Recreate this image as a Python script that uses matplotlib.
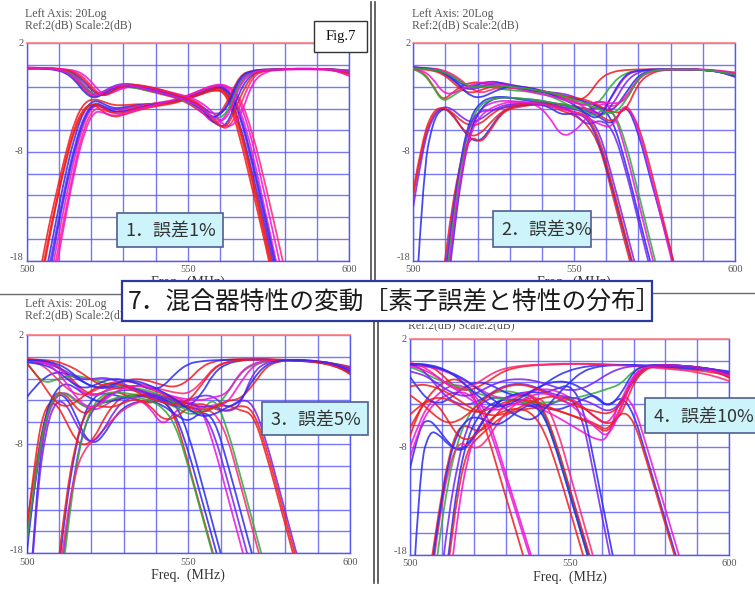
import matplotlib
matplotlib.use("Agg")
import matplotlib.pyplot as plt
from matplotlib.path import Path
from matplotlib.patches import PathPatch, Rectangle
from matplotlib.lines import Line2D
from matplotlib.transforms import Bbox

# ---------------------------------------------------------------- data
# frequency sample points (MHz) shared by every trace
FREQ = [500, 503, 506, 509, 512, 515, 518, 521, 524, 527, 530, 534, 538, 542,
        546, 550, 554, 558, 562, 566, 570, 574, 578, 582, 586, 590, 595, 600]

# panel 1 : element tolerance 1 %
P1_THRU = [
    [-0.3, -0.3, -0.3, -0.4, -0.6, -1.2, -2.4, -3.0, -2.5, -2.0, -1.9, -2.1, -2.4, -2.7, -3.0, -3.5, -4.3, -5.1, -3.6, -0.9, -0.5, -0.4, -0.4, -0.35, -0.35, -0.35, -0.4, -0.6],
    [-0.2, -0.25, -0.3, -0.3, -0.5, -0.9, -1.9, -2.9, -2.7, -2.1, -1.8, -1.9, -2.3, -2.6, -2.9, -3.4, -4.2, -5.5, -4.8, -1.4, -0.6, -0.45, -0.4, -0.35, -0.35, -0.35, -0.4, -0.5],
    [-0.3, -0.3, -0.3, -0.35, -0.45, -0.8, -1.6, -2.6, -2.8, -2.3, -1.9, -1.9, -2.2, -2.5, -2.8, -3.2, -3.9, -5.4, -5.8, -2.3, -0.7, -0.5, -0.4, -0.35, -0.35, -0.35, -0.4, -0.7],
    [-0.3, -0.3, -0.3, -0.35, -0.4, -0.6, -1.2, -2.3, -2.9, -2.4, -2.0, -1.8, -2.1, -2.4, -2.7, -3.0, -3.6, -4.9, -6.2, -3.9, -1.0, -0.5, -0.4, -0.4, -0.35, -0.4, -0.45, -0.9],
    [-0.25, -0.3, -0.3, -0.4, -0.55, -1.0, -2.1, -2.8, -2.4, -1.9, -1.7, -1.8, -2.2, -2.5, -2.8, -3.2, -3.8, -4.6, -4.2, -1.2, -0.55, -0.45, -0.4, -0.35, -0.35, -0.35, -0.4, -0.5],
    [-0.4, -0.3, -0.3, -0.4, -0.5, -1.0, -2.0, -2.8, -2.6, -2.1, -2.0, -2.1, -2.4, -2.6, -2.9, -3.4, -4.0, -5.0, -4.6, -1.6, -0.6, -0.45, -0.4, -0.35, -0.35, -0.35, -0.4, -0.5],
    [-0.3, -0.3, -0.3, -0.3, -0.4, -0.5, -0.9, -1.9, -2.8, -2.5, -2.1, -1.9, -2.0, -2.3, -2.6, -2.9, -3.4, -4.4, -5.9, -5.0, -1.5, -0.6, -0.45, -0.4, -0.4, -0.4, -0.45, -1.0],
    [-0.3, -0.3, -0.35, -0.45, -0.7, -1.4, -2.6, -3.1, -2.6, -2.1, -1.9, -2.0, -2.3, -2.6, -2.9, -3.3, -4.0, -5.0, -4.0, -1.0, -0.5, -0.4, -0.4, -0.35, -0.35, -0.35, -0.4, -0.6],
    [-0.3, -0.3, -0.3, -0.35, -0.45, -0.7, -1.4, -2.5, -2.9, -2.3, -1.9, -1.8, -2.0, -2.3, -2.7, -3.1, -3.7, -5.2, -6.0, -3.0, -0.8, -0.5, -0.4, -0.35, -0.35, -0.35, -0.4, -0.8],
    [-0.25, -0.3, -0.3, -0.4, -0.6, -1.1, -2.2, -2.9, -2.5, -2.0, -1.8, -2.0, -2.3, -2.6, -2.9, -3.3, -3.9, -5.0, -5.2, -1.8, -0.6, -0.45, -0.4, -0.35, -0.35, -0.35, -0.4, -0.6],
]
P1_THRU_COL = "rmbpvgmbrm"
P1_BAND = [
    [-26, -21, -16, -12, -8.2, -5.0, -3.4, -3.1, -3.4, -3.7, -3.7, -3.6, -3.6, -3.5, -3.4, -3.1, -2.7, -2.2, -2.6, -6.5, -11.5, -16.5, -22, -26],
    [-26, -24, -19, -14.5, -10, -6.4, -4.0, -3.2, -3.6, -4.0, -3.9, -3.7, -3.6, -3.5, -3.3, -3.0, -2.6, -2.1, -2.2, -5.2, -10, -15, -20.5, -26],
    [-26, -26, -22, -17, -12.5, -8.2, -5.0, -3.6, -4.0, -4.3, -4.2, -3.9, -3.7, -3.5, -3.3, -2.9, -2.4, -1.9, -1.9, -3.8, -8.0, -13.5, -19, -24.5],
    [-26, -22, -17, -12.8, -8.8, -5.5, -3.8, -3.6, -4.4, -4.8, -4.6, -4.2, -3.9, -3.7, -3.5, -3.1, -2.7, -2.3, -2.4, -5.8, -10.8, -16, -21.5, -26],
    [-26, -25, -20, -15.5, -11, -7.2, -4.5, -3.4, -3.8, -4.1, -4.0, -3.8, -3.6, -3.5, -3.3, -3.0, -2.5, -2.0, -2.0, -4.5, -9.2, -14.5, -20, -25.5],
    [-26, -26, -23, -18, -13.5, -9.0, -5.5, -3.9, -4.2, -4.4, -4.1, -3.8, -3.6, -3.4, -3.2, -2.8, -2.3, -1.9, -1.8, -2.8, -6.2, -11.0, -16.2, -21.5, -26],
    [-26, -25, -21, -16, -11.5, -7.6, -4.7, -3.5, -3.9, -4.3, -4.3, -4.0, -3.7, -3.5, -3.3, -3.0, -2.6, -2.1, -2.1, -4.2, -8.8, -14, -19.5, -25],
    [-26, -22.5, -17.5, -13, -9.0, -5.8, -4.0, -3.5, -4.0, -4.5, -4.4, -4.0, -3.8, -3.6, -3.4, -3.0, -2.6, -2.1, -2.3, -5.4, -10.4, -15.6, -21, -26],
    [-26, -26, -24, -19, -14, -9.5, -6.0, -4.2, -4.4, -4.7, -4.5, -4.1, -3.8, -3.5, -3.2, -2.8, -2.3, -1.8, -1.8, -3.2, -7.0, -12.2, -17.6, -23],
]
P1_BAND_COL = "rbmrvpbrm"

# panel 2 : element tolerance 3 %
P2_THRU = [
    [-0.3, -0.6, -1.8, -3.3, -2.6, -1.9, -1.6, -1.6, -1.8, -2.0, -2.1, -2.2, -2.4, -2.6, -2.9, -3.3, -3.0, -1.2, -0.6, -0.45, -0.4, -0.4, -0.4, -0.4, -0.4, -0.45, -0.55, -0.8],
    [-0.4, -0.7, -1.9, -3.4, -2.9, -2.3, -2.0, -1.9, -2.0, -2.2, -2.3, -2.4, -2.5, -2.8, -3.3, -4.0, -4.2, -3.4, -1.6, -0.7, -0.5, -0.45, -0.4, -0.4, -0.4, -0.45, -0.6, -0.9],
    [-0.2, -0.25, -0.35, -0.5, -0.9, -1.6, -2.1, -1.9, -1.7, -1.6, -1.8, -2.1, -2.3, -2.6, -3.0, -3.2, -4.1, -4.6, -2.8, -0.9, -0.5, -0.4, -0.4, -0.35, -0.35, -0.4, -0.5, -0.7],
    [-0.3, -0.3, -0.4, -0.6, -1.1, -1.8, -2.0, -1.7, -1.5, -1.6, -1.9, -2.2, -2.4, -2.5, -2.8, -3.1, -3.4, -3.9, -4.3, -2.6, -0.9, -0.5, -0.4, -0.4, -0.4, -0.45, -0.6, -1.0],
    [-0.25, -0.3, -0.3, -0.45, -0.8, -1.4, -2.2, -2.6, -2.3, -2.0, -1.9, -2.0, -2.2, -2.5, -2.9, -3.4, -3.8, -3.2, -4.0, -3.0, -1.1, -0.55, -0.4, -0.4, -0.4, -0.45, -0.55, -0.7],
    [-0.2, -0.3, -0.4, -0.7, -1.3, -2.0, -2.3, -2.0, -1.8, -1.7, -1.8, -2.0, -2.3, -2.5, -2.6, -2.9, -3.5, -4.8, -3.7, -1.5, -0.6, -0.45, -0.4, -0.4, -0.4, -0.45, -0.6, -1.1],
    [-0.4, -0.4, -0.5, -0.8, -1.5, -2.3, -2.6, -2.3, -2.0, -1.9, -1.9, -2.1, -2.3, -2.5, -2.8, -3.0, -3.2, -3.8, -4.4, -4.3, -1.6, -0.7, -0.45, -0.4, -0.4, -0.45, -0.55, -0.8],
    [-0.2, -0.3, -0.35, -0.6, -1.2, -2.1, -2.9, -3.0, -2.6, -2.2, -2.0, -2.0, -2.2, -2.6, -3.1, -3.6, -4.6, -5.0, -2.6, -0.8, -0.5, -0.4, -0.4, -0.4, -0.4, -0.45, -0.6, -1.0],
    [-0.3, -0.5, -1.2, -2.5, -2.7, -2.2, -1.8, -1.6, -1.6, -1.8, -2.0, -2.3, -2.6, -2.8, -3.1, -3.5, -3.7, -3.3, -3.6, -3.3, -1.2, -0.55, -0.4, -0.4, -0.4, -0.45, -0.55, -0.8],
    [-0.3, -0.35, -0.4, -0.6, -1.0, -1.6, -2.0, -2.0, -1.9, -1.9, -2.0, -2.1, -2.3, -2.5, -2.8, -3.2, -3.6, -4.1, -4.6, -3.4, -1.1, -0.5, -0.4, -0.4, -0.4, -0.45, -0.6, -0.9],
]
P2_THRU_COL = "rgmbpvrbmg"
P2_BAND = [
    [-12, -7.0, -4.6, -3.9, -4.3, -5.2, -5.6, -5.4, -4.6, -4.0, -3.7, -3.6, -3.6, -3.7, -4.2, -4.6, -5.4, -7.4, -12, -16.6, -21, -26],
    [-26, -10, -5.2, -3.9, -4.4, -5.8, -6.9, -7.0, -5.8, -4.5, -3.9, -3.7, -3.6, -3.8, -4.6, -4.4, -4.8, -7.2, -11.5, -16, -20.5, -26],
    [-13, -7.5, -4.8, -3.8, -4.0, -4.8, -5.3, -5.0, -4.3, -3.8, -3.6, -3.5, -3.5, -3.6, -3.9, -4.0, -4.5, -6.2, -10.5, -15, -19.5, -24],
    [-26, -26, -26, -22, -14.5, -8.0, -4.6, -3.4, -3.0, -2.9, -3.0, -3.2, -3.4, -3.5, -3.6, -3.8, -4.2, -3.8, -5.0, -9.0, -13.8, -18.5, -23, -26],
    [-26, -26, -26, -24, -16, -9.5, -5.5, -4.0, -3.5, -3.3, -3.3, -3.4, -3.6, -4.6, -6.6, -6.2, -4.8, -3.4, -4.0, -7.8, -12.6, -17.4, -22, -26],
    [-26, -26, -26, -25, -17, -10, -5.8, -4.0, -3.2, -3.0, -3.0, -3.1, -3.2, -3.4, -3.7, -3.9, -4.2, -4.8, -5.6, -3.4, -6.2, -10.8, -15.0, -19.4, -24],
    [-26, -26, -26, -20, -13, -8.5, -6.5, -7.2, -6.0, -4.6, -4.0, -3.8, -3.6, -3.5, -3.6, -3.8, -4.0, -4.6, -5.4, -3.6, -5.4, -9.8, -14.6, -19.4, -24],
    [-26, -26, -26, -23, -15, -8.8, -5.0, -3.6, -3.2, -3.0, -3.0, -3.1, -3.2, -3.4, -3.6, -3.9, -4.4, -4.8, -4.0, -7.0, -11.8, -16.6, -21.4, -26],
    [-26, -26, -26, -21, -14, -8.2, -5.0, -4.2, -4.2, -4.0, -3.8, -3.7, -3.6, -3.6, -3.8, -4.4, -5.6, -5.0, -5.8, -9.6, -14.4, -19.2, -24],
    [-11.5, -6.6, -4.3, -3.8, -4.5, -5.8, -6.6, -6.3, -5.3, -4.4, -3.9, -3.6, -3.5, -3.6, -4.0, -4.3, -4.6, -6.8, -11.2, -15.8, -20.3, -25],
    [-26, -26, -26, -24, -16, -9.8, -6.0, -4.6, -4.0, -3.6, -3.4, -3.4, -3.5, -3.7, -4.0, -4.4, -4.8, -5.5, -5.8, -3.2, -5.8, -10.4, -15.2, -20, -24.6],
]
P2_BAND_COL = "rbvbmbrgvrm"

# panel 3 : element tolerance 5 %
P3_THRU = [
    [-0.2, -0.3, -0.4, -0.7, -1.4, -2.4, -3.2, -3.5, -3.2, -2.6, -2.2, -2.0, -2.2, -2.6, -2.8, -2.2, -0.9, -0.4, -0.25, -0.2, -0.2, -0.2, -0.25, -0.3, -0.35, -0.45, -0.6, -0.9],
    [-3.7, -2.6, -1.8, -1.4, -1.5, -1.9, -2.4, -2.8, -2.9, -2.7, -2.6, -2.9, -3.4, -3.8, -4.4, -4.6, -3.5, -1.4, -0.6, -0.35, -0.25, -0.25, -0.3, -0.3, -0.35, -0.45, -0.6, -1.0],
    [-0.3, -0.35, -0.45, -0.8, -1.6, -2.6, -3.4, -3.6, -3.2, -2.9, -2.8, -3.0, -3.3, -3.6, -3.9, -4.3, -4.7, -4.4, -4.3, -2.4, -0.8, -0.4, -0.3, -0.3, -0.35, -0.45, -0.7, -1.2],
    [-0.5, -1.8, -2.4, -2.1, -1.8, -1.7, -1.9, -2.1, -2.4, -2.6, -2.7, -2.9, -3.1, -3.6, -4.3, -5.0, -5.1, -4.8, -3.4, -1.5, -0.7, -0.4, -0.3, -0.3, -0.35, -0.45, -0.7, -1.1],
    [-0.4, -0.5, -0.6, -0.9, -1.3, -1.8, -2.1, -2.0, -1.9, -2.1, -2.5, -3.0, -3.4, -3.7, -4.0, -4.3, -4.6, -4.5, -5.1, -4.5, -1.4, -0.5, -0.3, -0.3, -0.35, -0.5, -0.8, -1.4],
    [-0.3, -0.5, -1.0, -1.9, -2.8, -3.4, -3.5, -3.1, -2.6, -2.3, -2.2, -2.4, -2.7, -3.0, -3.3, -3.4, -2.4, -0.9, -0.45, -0.3, -0.25, -0.25, -0.3, -0.35, -0.4, -0.5, -0.7, -1.0],
    [-0.2, -0.25, -0.3, -0.4, -0.7, -1.1, -1.7, -2.3, -2.7, -2.9, -2.8, -2.6, -2.9, -3.4, -3.9, -4.6, -5.2, -4.6, -4.0, -3.9, -2.6, -0.9, -0.4, -0.3, -0.3, -0.4, -0.6, -1.6],
    [-0.5, -0.6, -0.8, -1.2, -1.9, -2.6, -2.9, -2.6, -2.2, -2.0, -2.1, -2.4, -3.0, -2.8, -1.5, -0.6, -0.4, -0.3, -0.3, -0.25, -0.25, -0.25, -0.3, -0.35, -0.4, -0.5, -0.7, -1.1],
    [-0.3, -0.4, -0.6, -1.2, -2.3, -3.6, -4.5, -4.6, -4.0, -3.3, -2.8, -2.6, -2.8, -3.3, -3.7, -3.9, -4.0, -3.7, -3.4, -1.4, -0.6, -0.35, -0.3, -0.3, -0.35, -0.45, -0.65, -1.2],
    [-0.6, -1.6, -3.0, -4.2, -4.6, -4.2, -3.5, -2.9, -2.5, -2.4, -2.6, -3.2, -3.8, -4.2, -4.4, -4.1, -2.6, -1.0, -0.45, -0.3, -0.25, -0.25, -0.3, -0.3, -0.35, -0.5, -0.8, -1.5],
    [-0.3, -0.3, -0.4, -0.6, -1.0, -1.7, -2.4, -2.8, -2.8, -2.5, -2.2, -2.2, -2.6, -3.2, -3.9, -4.8, -5.5, -5.3, -4.6, -4.2, -2.0, -0.7, -0.35, -0.3, -0.3, -0.4, -0.6, -1.3],
]
P3_THRU_COL = "rbmgvprbmrb"
P3_BAND = [
    [-15.5, -9.5, -5.0, -3.2, -3.4, -4.6, -5.3, -4.6, -3.6, -3.2, -3.4, -4.0, -4.3, -3.8, -5.5, -9.8, -14.1, -18.4, -22.7, -26],
    [-26, -12, -5.5, -3.4, -3.6, -5.2, -7.4, -8.0, -7.1, -5.6, -4.6, -4.1, -4.0, -4.4, -5.3, -6.0, -5.0, -5.6, -9.6, -14, -18.4, -22.8, -26],
    [-17, -10.5, -5.8, -3.6, -3.2, -3.9, -4.6, -4.9, -4.5, -3.9, -3.6, -3.8, -4.6, -6.4, -5.0, -4.0, -4.6, -8.2, -12.6, -17, -21.4, -26],
    [-26, -26, -26, -22, -14, -8.4, -5.0, -3.6, -3.3, -3.5, -3.7, -3.6, -3.4, -3.5, -4.2, -7.0, -11.4, -15.8, -20.2, -26],
    [-16, -8.0, -4.3, -4.2, -5.8, -7.6, -8.2, -7.4, -5.6, -4.3, -3.6, -3.4, -3.5, -3.8, -4.2, -4.6, -4.9, -4.6, -4.4, -4.9, -5.2, -8.8, -13.2, -17.6, -22, -26],
    [-26, -26, -26, -24, -16.5, -10, -6.2, -4.6, -3.8, -3.3, -3.0, -3.1, -3.5, -4.0, -4.2, -4.0, -3.5, -3.6, -4.8, -3.9, -4.2, -7.6, -12, -16.4, -20.8, -25],
    [-26, -26, -26, -25, -17.5, -10.5, -6.2, -4.2, -3.4, -3.2, -3.3, -3.5, -3.8, -4.1, -4.6, -5.3, -5.1, -3.6, -6.5, -10.8, -15.2, -19.6, -24],
    [-18, -10, -5.0, -3.0, -2.4, -2.8, -3.5, -4.0, -4.2, -4.0, -3.8, -3.6, -3.6, -4.0, -5.2, -8.6, -12.9, -17.2, -21.5, -26],
    [-26, -26, -26, -23, -15.5, -10.5, -8.4, -7.6, -6.6, -5.6, -4.8, -4.2, -3.9, -3.6, -3.7, -4.2, -4.8, -5.0, -7.2, -11.6, -16, -20.4, -24.8],
    [-26, -13, -6.5, -4.0, -4.2, -6.0, -7.6, -7.8, -6.6, -5.0, -4.0, -3.6, -3.6, -4.0, -4.6, -4.6, -4.8, -7.0, -11.2, -15.6, -20, -24.4],
    [-26, -26, -26, -21, -13.2, -8.0, -5.2, -4.4, -4.6, -4.6, -4.2, -3.8, -4.4, -5.8, -5.6, -4.6, -4.2, -4.8, -5.0, -4.4, -4.8, -8.2, -12.6, -17, -21.4, -25.8],
    [-17, -10, -5.4, -3.4, -3.3, -4.0, -4.6, -4.6, -4.2, -3.8, -3.6, -3.7, -4.0, -4.6, -6.2, -10, -14.3, -18.6, -23],
]
P3_BAND_COL = "rbmbrvgbpvrg"

# panel 4 : element tolerance 10 %
P4_THRU = [
    [-0.3, -0.3, -0.5, -1.0, -1.9, -2.6, -2.8, -2.5, -2.0, -1.4, -0.9, -0.6, -0.45, -0.4, -0.35, -0.3, -0.3, -0.3, -0.35, -0.4, -0.45, -0.5, -0.6, -0.7, -0.8, -0.9, -1.1, -1.4],
    [-1.5, -2.8, -3.7, -4.0, -3.6, -2.9, -2.3, -2.0, -2.1, -2.5, -3.0, -3.3, -3.0, -2.2, -1.4, -0.9, -0.6, -0.45, -0.4, -0.4, -0.45, -0.5, -0.55, -0.6, -0.7, -0.8, -0.9, -1.1],
    [-0.4, -0.5, -0.6, -0.8, -1.1, -1.5, -2.0, -2.5, -3.0, -3.4, -3.5, -3.2, -2.8, -2.6, -2.8, -3.4, -4.2, -5.3, -6.0, -3.8, -1.2, -0.6, -0.5, -0.5, -0.55, -0.65, -0.85, -1.2],
    [-0.6, -0.9, -1.4, -1.8, -2.1, -2.4, -2.7, -3.0, -3.3, -3.5, -3.6, -3.8, -3.9, -3.9, -3.8, -3.6, -3.3, -3.0, -2.6, -2.2, -0.9, -0.45, -0.4, -0.45, -0.5, -0.6, -0.8, -1.1],
    [-0.3, -0.6, -1.5, -2.6, -3.5, -4.0, -4.1, -3.8, -3.3, -2.7, -2.3, -2.1, -2.3, -2.8, -3.2, -3.4, -3.6, -4.1, -4.8, -4.0, -1.8, -0.6, -0.4, -0.4, -0.5, -0.6, -0.9, -1.5],
    [-5.0, -4.2, -3.6, -3.4, -3.6, -4.1, -4.6, -4.8, -4.6, -4.2, -3.8, -3.6, -3.7, -4.1, -4.6, -5.0, -5.4, -5.8, -6.6, -4.4, -1.5, -0.6, -0.45, -0.45, -0.5, -0.65, -0.9, -1.6],
    [-0.4, -0.4, -0.5, -0.7, -1.0, -1.4, -1.9, -2.6, -3.2, -3.8, -4.5, -5.2, -5.6, -4.6, -3.2, -2.0, -1.0, -0.6, -0.45, -0.4, -0.4, -0.45, -0.5, -0.55, -0.6, -0.7, -0.8, -1.0],
    [-0.2, -0.4, -0.9, -1.6, -2.3, -2.7, -2.6, -2.1, -1.5, -1.0, -0.7, -0.5, -0.4, -0.35, -0.3, -0.3, -0.3, -0.35, -0.4, -0.45, -0.5, -0.6, -0.7, -0.8, -0.9, -1.1, -1.4, -1.9],
    [-2.4, -2.2, -2.3, -2.6, -3.0, -3.6, -4.2, -4.7, -5.0, -5.1, -4.9, -4.4, -3.8, -3.4, -3.3, -3.6, -4.3, -5.2, -6.0, -5.2, -2.0, -0.7, -0.5, -0.45, -0.5, -0.6, -0.8, -1.3],
    [-0.3, -0.3, -0.4, -0.6, -1.0, -1.6, -2.4, -3.2, -3.9, -4.3, -4.2, -3.6, -2.8, -2.2, -1.9, -2.0, -2.6, -3.4, -4.3, -3.2, -0.9, -0.45, -0.4, -0.4, -0.5, -0.6, -0.8, -1.2],
    [-3.2, -3.8, -4.6, -5.4, -5.8, -5.6, -5.0, -4.2, -3.4, -2.8, -2.4, -2.2, -2.4, -2.9, -3.5, -4.0, -4.4, -4.7, -5.0, -4.2, -1.4, -0.55, -0.45, -0.45, -0.5, -0.6, -0.9, -1.5],
    [-0.5, -0.7, -1.1, -1.6, -2.2, -2.8, -3.4, -4.0, -4.4, -4.6, -4.4, -3.8, -3.2, -3.0, -3.3, -4.0, -5.0, -6.2, -7.2, -4.6, -1.3, -0.55, -0.45, -0.45, -0.5, -0.65, -0.9, -1.4],
    [-1.0, -1.2, -1.6, -2.2, -2.8, -3.2, -3.3, -3.0, -2.5, -2.1, -1.8, -1.7, -1.8, -2.1, -2.5, -2.8, -2.6, -2.0, -1.2, -0.7, -0.5, -0.45, -0.45, -0.5, -0.55, -0.65, -0.8, -1.1],
]
P4_THRU_COL = "rbmgvrbprbrmv"
P4_BAND = [
    [-6.2, -4.6, -3.2, -2.3, -1.8, -1.7, -2.4, -4.0, -6.6, -9.6, -12.6, -16.6, -20.6, -25],
    [-8.0, -5.6, -4.0, -3.0, -2.4, -2.2, -2.6, -3.4, -5.0, -7.6, -10.5, -14.3, -18.1, -22, -26],
    [-26, -10, -6.5, -6.8, -7.8, -8.3, -7.8, -6.5, -5.0, -4.0, -3.4, -3.1, -3.2, -4.8, -8.0, -12.0, -16.0, -20, -24],
    [-26, -26, -20, -14, -9.0, -6.2, -6.0, -6.6, -6.2, -5.0, -4.0, -3.3, -3.0, -4.5, -7.8, -11.8, -15.8, -19.8, -24],
    [-26, -26, -24, -17, -11, -7.4, -5.2, -4.0, -3.3, -2.9, -2.8, -3.0, -3.6, -5.0, -8.2, -12.3, -16.4, -20.5, -24.6],
    [-26, -26, -26, -22, -14.5, -9.4, -6.0, -4.4, -3.6, -3.4, -3.5, -3.8, -4.2, -4.3, -3.8, -3.2, -5.2, -11.2, -17.2, -23],
    [-26, -26, -26, -26, -18, -11, -7.2, -5.3, -4.3, -3.8, -3.6, -3.6, -3.9, -4.4, -4.6, -4.2, -3.6, -3.1, -4.4, -3.2, -4.8, -8.8, -12.8, -16.8, -20.8, -24.8],
    [-26, -26, -26, -25, -19, -12, -8.2, -7.2, -6.4, -5.6, -5.0, -4.6, -4.4, -4.3, -4.6, -5.0, -5.5, -6.0, -6.8, -4.6, -5.4, -9.2, -13.2, -17.2, -21.2, -25],
    [-26, -26, -26, -26, -22, -14, -9.0, -6.4, -5.0, -4.3, -4.0, -4.0, -4.2, -4.6, -5.2, -5.9, -6.6, -7.3, -7.4, -3.0, -4.0, -7.8, -11.8, -15.8, -19.8, -23.8],
    [-10, -6.0, -5.4, -6.4, -7.6, -8.4, -8.0, -6.6, -5.0, -4.0, -3.4, -3.0, -2.9, -3.0, -2.6, -2.2, -4.0, -9.8, -15.8, -21.8],
    [-26, -26, -22, -15, -10, -7.6, -7.8, -8.2, -7.4, -6.0, -4.8, -3.8, -3.4, -3.6, -6.2, -10.4, -14.6, -18.8, -23],
    [-7.0, -4.4, -3.6, -4.2, -5.6, -7.0, -7.4, -6.8, -5.8, -5.0, -4.6, -4.4, -4.8, -6.4, -9.8, -13.8, -17.8, -21.8],
    [-26, -26, -21, -14.5, -9.4, -6.6, -5.4, -5.2, -5.6, -6.0, -5.6, -4.6, -4.0, -5.0, -8.4, -12.4, -16.4, -20.4, -24.4],
    [-9.0, -6.2, -4.5, -3.6, -3.1, -2.9, -3.0, -3.8, -5.6, -8.2, -11.0, -14.8, -18.6, -22.4],
]
P4_BAND_COL = "rmbrgvbrmbprbm"

TOLERANCE_LABELS = ["1．誤差1%", "2．誤差3%", "3．誤差5%", "4．誤差10%"]
TITLE = "7．混合器特性の変動［素子誤差と特性の分布］"
X_TICKS = ["500", "550", "600"]
Y_TICKS = ["2", "-8", "-18"]

# ---------------------------------------------------------------- style
COLORS = {"r": "#f01c1c", "b": "#2a2af2", "m": "#ee14d6", "p": "#ff2476",
          "v": "#7622ee", "g": "#2faa38"}
GRID = "#5656f6"
W, H = 755, 589
CJK = ["Noto Sans CJK JP", "DejaVu Sans"]
SERIF = "Liberation Serif"

fig = plt.figure(figsize=(W / 100, H / 100), dpi=100)
fig.patch.set_facecolor("white")


def pixel_axes(x0, y0, x1, y1, **kw):
    return fig.add_axes([x0 / W, 1 - y1 / H, (x1 - x0) / W, (y1 - y0) / H], **kw)


def smooth_trace(ax, xs, ys, color):
    pts = list(zip(xs, ys))
    verts = [pts[0]]
    codes = [Path.MOVETO]
    for i in range(1, len(pts) - 1):
        mid = ((pts[i][0] + pts[i + 1][0]) / 2, (pts[i][1] + pts[i + 1][1]) / 2)
        verts += [pts[i], mid]
        codes += [Path.CURVE3, Path.CURVE3]
    verts.append(pts[-1])
    codes.append(Path.LINETO)
    ax.add_patch(PathPatch(Path(verts, codes), fill=False, edgecolor=color,
                           lw=1.3, alpha=0.85, capstyle="round", zorder=3))


PANELS = [
    ((26.7, 43.3, 349.3, 260.7), P1_THRU, P1_THRU_COL, P1_BAND, P1_BAND_COL),
    ((413.3, 43.3, 735.0, 260.7), P2_THRU, P2_THRU_COL, P2_BAND, P2_BAND_COL),
    ((26.7, 335.0, 350.0, 553.3), P3_THRU, P3_THRU_COL, P3_BAND, P3_BAND_COL),
    ((410.0, 339.0, 729.3, 555.0), P4_THRU, P4_THRU_COL, P4_BAND, P4_BAND_COL),
]

for box, thru, thru_col, band, band_col in PANELS:
    ax = pixel_axes(*box)
    ax.set_xlim(500, 600)
    ax.set_ylim(-18, 2)
    ax.set_xticks(range(500, 601, 10))
    ax.set_yticks(range(-18, 3, 2))
    ax.tick_params(length=0, labelbottom=False, labelleft=False)
    ax.grid(True, color=GRID, lw=1.0, alpha=0.8)
    ax.set_axisbelow(True)
    for side in ("left", "bottom", "right"):
        ax.spines[side].set_color(GRID)
        ax.spines[side].set_linewidth(1.0)
    ax.spines["top"].set_color("#ff7c7c")
    ax.spines["top"].set_linewidth(1.2)
    for row, c in zip(band, band_col):
        smooth_trace(ax, FREQ, row, COLORS[c])
    for row, c in zip(thru, thru_col):
        smooth_trace(ax, FREQ, row, COLORS[c])

# ---------------------------------------------------------------- overlay in pixel coordinates
ov = fig.add_axes([0, 0, 1, 1], zorder=10)
ov.set_xlim(0, W)
ov.set_ylim(H, 0)
ov.axis("off")
ov.patch.set_alpha(0)

BANNER = (121.7, 281.0, 652.0, 321.0)

tick_kw = dict(fontsize=7.5, family=SERIF, color="#555555")
head_kw = dict(fontsize=8.5, family=SERIF, color="#555555", ha="left", va="center")
# only the part of the upper-row axis titles above the banner stays visible
upper_clip = Bbox([[0, H - BANNER[1]], [W, H]])

for idx, ((x0, y0, x1, y1), *_) in enumerate(PANELS):
    ym = (y0 + y1) / 2
    ov.text(x0 - 3, y0, Y_TICKS[0], ha="right", va="center", **tick_kw)
    ov.text(x0 - 3, ym, Y_TICKS[1], ha="right", va="center", **tick_kw)
    ov.text(x0 - 3, y1 - 3, Y_TICKS[2], ha="right", va="center", **tick_kw)
    for xv, lab in zip((x0, (x0 + x1) / 2, x1), X_TICKS):
        ov.text(xv, y1 + 9, lab, ha="center", va="center", **tick_kw)
    xl = ov.text((x0 + x1) / 2, y1 + 22, "Freq.  (MHz)", ha="center", va="center",
                 fontsize=10, family=SERIF, color="#333333")
    if idx < 2:
        xl.set_clip_box(upper_clip)
        xl.set_clip_on(True)

# panel headers
for hx, hy in ((25, 14), (412, 14), (25, 304)):
    ov.text(hx, hy, "Left Axis: 20Log", **head_kw)
    ov.text(hx, hy + 11, "Ref:2(dB) Scale:2(dB)", **head_kw)
hdr4 = ov.text(408, 325, "Ref:2(dB) Scale:2(dB)", **head_kw)
hdr4.set_clip_box(Bbox([[0, 0], [W, H - 323.5]]))
hdr4.set_clip_on(True)

# separators between the four panels
sep = dict(color="#4a4a4a", lw=1.2)
ov.add_line(Line2D([371, 371], [2, 283], **sep))
ov.add_line(Line2D([375, 375], [2, 283], **sep))
ov.add_line(Line2D([374, 374], [318, 583], **sep))
ov.add_line(Line2D([378, 378], [318, 583], **sep))
ov.add_line(Line2D([0, 122], [294, 294], color="#6a6a6a", lw=1.0))
ov.add_line(Line2D([652, 755], [293, 293], color="#6a6a6a", lw=1.0))

# figure number
ov.add_patch(Rectangle((314, 20.7), 52.7, 31, facecolor="white", edgecolor="#333333", lw=1.0, zorder=4))
ov.text(340.3, 36.5, "Fig.7", ha="center", va="center", fontsize=10.5, family=SERIF,
        color="#111111", zorder=5)

# tolerance labels
for (bx0, by0, bx1, by1), lab in zip(
        [(116.7, 213, 222.7, 247), (492.7, 210.7, 590.7, 246.7),
         (261.7, 401.7, 368.3, 435), (645, 398.3, 760, 432.7)], TOLERANCE_LABELS):
    ov.add_patch(Rectangle((bx0, by0), bx1 - bx0, by1 - by0, facecolor="#cdf4fa",
                           edgecolor="#4f5f8f", lw=1.2, zorder=4))
    ov.text(bx0 + 9, (by0 + by1) / 2 + 1, lab, ha="left", va="center", fontsize=13,
            family=CJK, color="#333333", zorder=5)

# title banner
bx0, by0, bx1, by1 = BANNER
ov.add_patch(Rectangle((bx0, by0), bx1 - bx0, by1 - by0, facecolor="white",
                       edgecolor="#2b3a9e", lw=1.6, zorder=6))
ov.text(128, (by0 + by1) / 2, TITLE, ha="left", va="center", fontsize=17.8, family=CJK,
        color="#1a1a1a", zorder=7)

fig.savefig("out.png", dpi=100, facecolor="white")
